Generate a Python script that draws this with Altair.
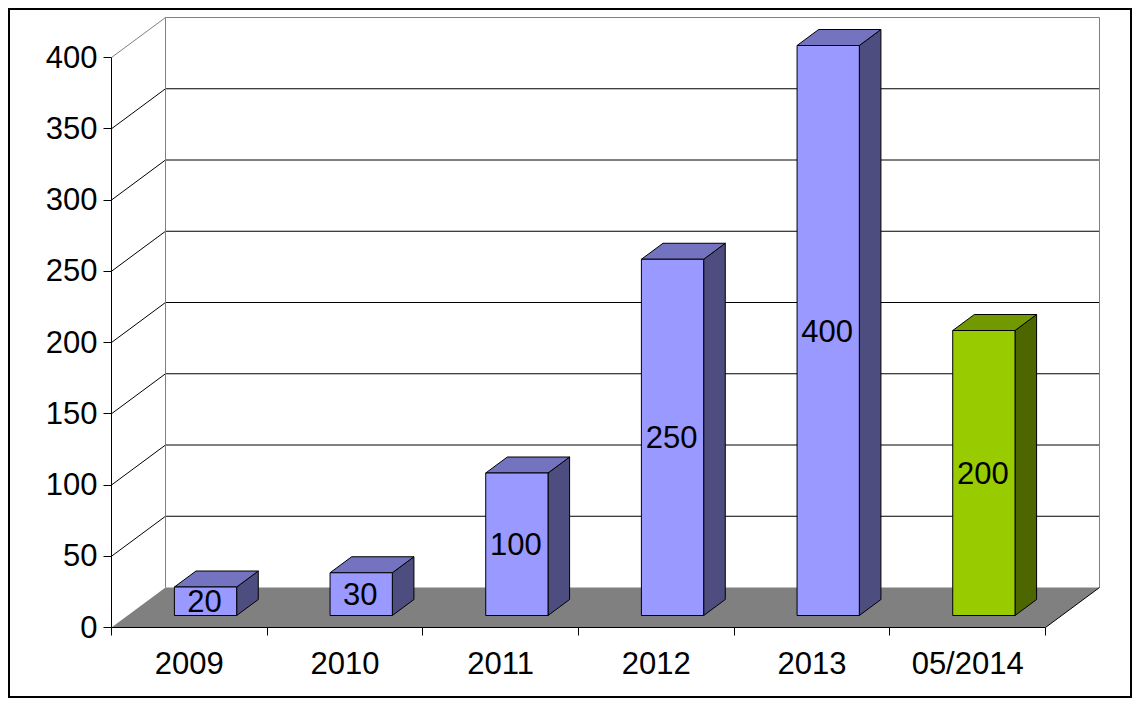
import altair as alt
import pandas as pd

categories = ["2009", "2010", "2011", "2012", "2013", "05/2014"]
values = [20, 30, 100, 250, 400, 200]
front_colors = ["#9999FF"] * 5 + ["#99CC00"]
top_colors = ["#7373BF"] * 5 + ["#739900"]
side_colors = ["#4D4D80"] * 5 + ["#4D6600"]
y_ticks = [0, 50, 100, 150, 200, 250, 300, 350, 400]

FONT = "Liberation Sans"
FS = 31
N = len(categories)
YMAX = 400
W, H = 988, 610
DX = 54 / (934 / N)          # depth of the box, in category units
DY = 40 / (570 / YMAX)       # depth of the box, in value units
D0, D1 = 0.3, 0.7            # bar depth range inside the box
BAR = 0.4

xs = alt.Scale(domain=[0, N + DX], nice=False, zero=False)
ys = alt.Scale(domain=[0, YMAX + DY], nice=False, zero=False)


def X(f, **k):
    return alt.X(f"{f}:Q", scale=xs, title=None, **k)


def Y(f, **k):
    return alt.Y(f"{f}:Q", scale=ys, title=None, **k)


lab = "['" + "','".join(categories) + "',''][datum.value]"
x_axis = alt.Axis(values=list(range(N + 1)), labelExpr=lab, labelOffset=934 / N / 2, labelBound=False,
                  labelFlush=False, labelOverlap=False,
                  domain=False, grid=False, tickColor="black", tickSize=8, tickWidth=1, translate=0,
                  labelFont=FONT, labelFontSize=FS, labelColor="black", labelPadding=14)
y_axis = alt.Axis(values=y_ticks, domain=False, grid=False, tickColor="black", tickSize=8, tickWidth=1,
                  translate=0, labelFont=FONT, labelFontSize=FS, labelColor="black", labelPadding=6,
                  labelOffset=1)

# floor
floor = pd.DataFrame({"y": [0, DY], "x": [0, DX], "x2": [N, N + DX]})
floor_layer = alt.Chart(floor).mark_area(orient="horizontal", color="#808080").encode(
    y=Y("y", axis=y_axis), x=X("x", axis=x_axis), x2="x2:Q")

# wall and axis lines
rows = []
for v in y_ticks[1:]:
    c = "#808080" if v == YMAX else "black"
    rows.append(dict(x=0, y=v, x2=DX, y2=v + DY, c=c))
    rows.append(dict(x=DX, y=v + DY, x2=N + DX, y2=v + DY, c=c))
rows.append(dict(x=DX, y=DY, x2=DX, y2=YMAX + DY, c="#808080"))
rows.append(dict(x=N + DX, y=DY, x2=N + DX, y2=YMAX + DY, c="#808080"))
rows.append(dict(x=0, y=0, x2=0, y2=YMAX, c="black"))
rows.append(dict(x=0, y=0, x2=N, y2=0, c="black"))
rows.append(dict(x=N, y=0, x2=N + DX, y2=DY, c="black"))
lines = alt.Chart(pd.DataFrame(rows)).mark_rule(strokeWidth=1).encode(
    x=X("x"), y=Y("y"), x2="x2:Q", y2="y2:Q", color=alt.Color("c:N", scale=None))

# bars
fr, side, top, labels = [], [], [], []
w, h = (D1 - D0) * DX, (D1 - D0) * DY
for i, (v, fc, tc, sc) in enumerate(zip(values, front_colors, top_colors, side_colors)):
    x0 = i + (1 - BAR) / 2 + D0 * DX
    x1 = x0 + BAR
    y0 = D0 * DY
    y1 = v + y0
    fr.append(dict(x=x0, x2=x1, y=y0, y2=y1, c=fc))
    side.append(dict(b=i, x=x1, y=y0, y2=y1, c=sc))
    side.append(dict(b=i, x=x1 + w, y=y0 + h, y2=y1 + h, c=sc))
    top.append(dict(b=i, y=y1, x=x0, x2=x1, c=tc))
    top.append(dict(b=i, y=y1 + h, x=x0 + w, x2=x1 + w, c=tc))
    labels.append(dict(x=(x0 + x1) / 2, y=(y0 + y1) / 2, t=str(v)))

front_layer = alt.Chart(pd.DataFrame(fr)).mark_rect(stroke="black", strokeWidth=1).encode(
    x=X("x"), x2="x2:Q", y=Y("y"), y2="y2:Q", fill=alt.Fill("c:N", scale=None))
side_layer = alt.Chart(pd.DataFrame(side)).mark_area(stroke="black", strokeWidth=1, orient="vertical").encode(
    x=X("x"), y=Y("y"), y2="y2:Q", fill=alt.Fill("c:N", scale=None), detail="b:N")
top_layer = alt.Chart(pd.DataFrame(top)).mark_area(stroke="black", strokeWidth=1, orient="horizontal").encode(
    y=Y("y"), x=X("x"), x2="x2:Q", fill=alt.Fill("c:N", scale=None), detail="b:N")
text_layer = alt.Chart(pd.DataFrame(labels)).mark_text(
    font=FONT, fontSize=FS, color="black", align="center", baseline="middle", dy=2, dx=-1).encode(
    x=X("x"), y=Y("y"), text="t:N")

border = alt.Chart(pd.DataFrame({"a": [0]})).mark_rect(fillOpacity=0, stroke="black", strokeWidth=2).encode(
    x=alt.value(-102.5), x2=alt.value(1019.5), y=alt.value(-8.5), y2=alt.value(679.5))

chart = alt.layer(floor_layer, lines, side_layer, top_layer, front_layer, text_layer, border).properties(
    width=W, height=H,
    background="white",
    autosize=alt.AutoSizeParams(type="none"),
    padding={"left": 103.5, "top": 9.5, "right": 32.5, "bottom": 70.5},
).configure_view(stroke=None)

chart.save("out.html", embed_options={"renderer": "svg", "actions": False})
